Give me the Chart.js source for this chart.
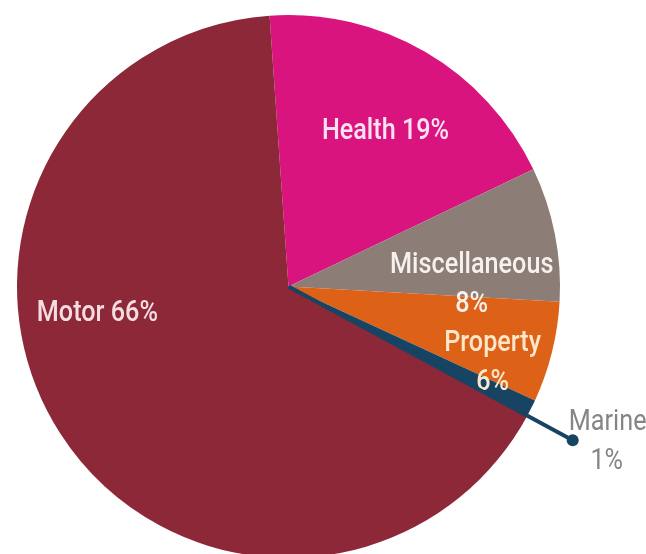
<!DOCTYPE html>
<html>
<head>
<meta charset="utf-8">
<script src="https://cdn.jsdelivr.net/npm/chart.js@4.4.0/dist/chart.umd.min.js"></script>
<style>
  html, body { margin: 0; padding: 0; background: #fff; overflow: hidden; }
  #wrap { position: relative; width: 646px; height: 560px; }
</style>
</head>
<body>
<div id="wrap"><canvas id="chart"></canvas></div>
<script>
// premium share by line of business, clockwise from the top
const categories = ['Health', 'Miscellaneous', 'Property', 'Marine', 'Motor'];
const shares = [19, 8, 6, 1, 66];
const sliceColors = ['#da147f', '#8d7d77', '#de6118', '#164462', '#8d2838'];

// label placement: angle (deg, clockwise from top), distance as fraction of radius
const labelSpots = [
    { angle: 31.7, dist: 0.68, lines: ['Health 19%'], color: '#fbe2f0' },
    { angle: 89, dist: 0.675, lines: ['Miscellaneous', '8%'], color: '#f6f1ee' },
    { angle: 110, dist: 0.80, lines: ['Property', '6%'], color: '#fde7c9' },
    { angle: 262.5, dist: 0.71, lines: ['Motor 66%'], color: '#f6dde2' },
];

const FONT = 'Roboto, "DejaVu Sans Condensed", sans-serif';
const SQUEEZE = 0.84; // condensed look

function condensedText(ctx, text, x, y) {
    ctx.save();
    ctx.translate(x, y + 2);
    ctx.scale(SQUEEZE, 1);
    ctx.fillText(text, 0, 0);
    ctx.restore();
}

// draws the in-slice labels plus the Marine leader line with its callout
const pieLabels = {
    id: 'pieLabels',
    afterDatasetsDraw(chart) {
        const { ctx } = chart;
        const arcs = chart.getDatasetMeta(0).data;
        const cx = arcs[0].x, cy = arcs[0].y, r = arcs[0].outerRadius;

        ctx.save();
        ctx.font = `500 30px ${FONT}`;
        ctx.textAlign = 'center';
        ctx.textBaseline = 'middle';
        labelSpots.forEach(spot => {
            const a = (spot.angle - 90) * Math.PI / 180;
            const x = cx + Math.cos(a) * r * spot.dist;
            const y = cy + Math.sin(a) * r * spot.dist;
            const lh = 39;
            const y0 = y - (spot.lines.length - 1) * lh / 2;
            ctx.fillStyle = spot.color;
            spot.lines.forEach((t, i) => condensedText(ctx, t, x, y0 + i * lh));
        });

        // Marine leader: from the centre along the thin wedge to a dot outside
        const marine = arcs[categories.indexOf('Marine')];
        const ang = marine.endAngle;
        const ex = cx + Math.cos(ang) * r * 1.19;
        const ey = cy + Math.sin(ang) * r * 1.19;
        ctx.strokeStyle = sliceColors[3];
        ctx.fillStyle = sliceColors[3];
        ctx.lineWidth = 4;
        ctx.beginPath();
        ctx.moveTo(cx, cy);
        ctx.lineTo(ex, ey);
        ctx.stroke();
        ctx.beginPath();
        ctx.arc(ex, ey, 6, 0, Math.PI * 2);
        ctx.fill();

        ctx.font = `30px ${FONT}`;
        ctx.fillStyle = '#858585';
        condensedText(ctx, 'Marine', ex + 35, ey - 20);
        condensedText(ctx, shares[3] + '%', ex + 34, ey + 19);
        ctx.restore();
    }
};

new Chart(document.getElementById('chart'), {
    type: 'pie',
    data: {
        labels: categories,
        datasets: [{
            data: shares,
            backgroundColor: sliceColors,
            borderWidth: 0,
        }]
    },
    options: {
        responsive: true,
        maintainAspectRatio: false,
        animation: false,
        rotation: -4,
        layout: {
            padding: { left: 17, right: 86, top: 15, bottom: 2 }
        },
        plugins: {
            legend: { display: false },
            tooltip: { enabled: false },
        }
    },
    plugins: [pieLabels]
});
</script>
</body>
</html>
